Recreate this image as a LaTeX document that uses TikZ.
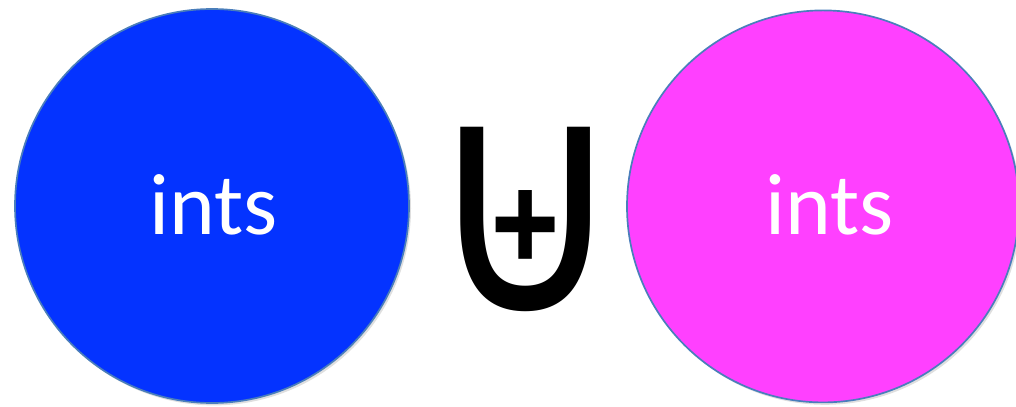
\documentclass[tikz,border=0pt]{standalone}
\usepackage{fontspec}
\setmainfont{Carlito}
\newfontfamily\symbfont{DejaVu Sans}
\usetikzlibrary{shadows}
\definecolor{setblue}{HTML}{0433FF}
\definecolor{setpink}{HTML}{FF40FF}
\definecolor{rimblue}{HTML}{4A7EBB}
\tikzset{
    setcircle/.style={circle, draw=rimblue, line width=1.2pt, minimum size=9.85cm, inner sep=0pt,
        drop shadow={shadow xshift=0.05cm, shadow yshift=-0.06cm, opacity=0.25}},
    setlabel/.style={text=white, font=\fontsize{62}{62}\selectfont}
}
\begin{document}
\begin{tikzpicture}
    \useasboundingbox (0, 0) rectangle (25.4, 10.15);
    \clip (0, 0) rectangle (25.4, 10.15);
    \node[setcircle, fill=setblue] (left) at (5.3, 5.0) {};
    \node[setcircle, fill=setpink, minimum size=9.8cm] (right) at (20.575, 4.99) {};
    \node[setlabel, anchor=base] (leftlabel) at (5.35, 4.3) {ints};
    \node[setlabel, anchor=base] (rightlabel) at (20.73, 4.3) {ints};
    \node[inner sep=0pt] (op) at (13.14, 4.66) {\resizebox{5cm}{4.63cm}{\symbfont ⊎}};
\end{tikzpicture}
\end{document}
